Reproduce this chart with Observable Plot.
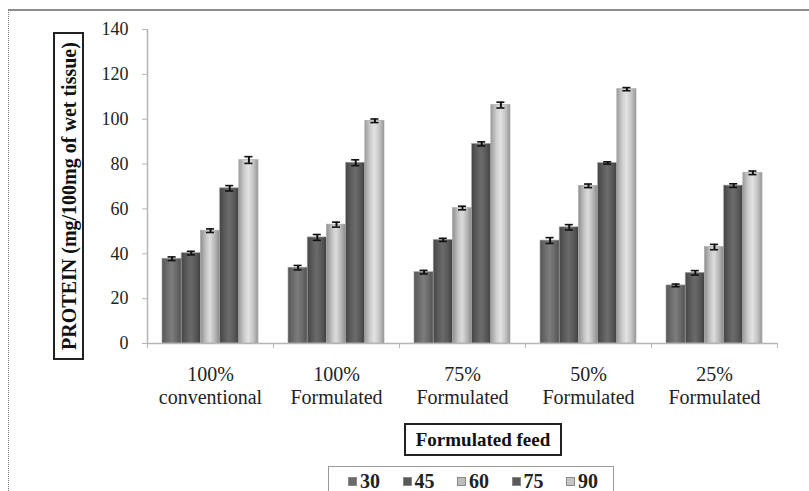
<!DOCTYPE html>
<html>
<head>
<meta charset="utf-8">
<script src="https://cdn.jsdelivr.net/npm/d3@7"></script>
<script src="https://cdn.jsdelivr.net/npm/@observablehq/plot@0.6"></script>
<style>
  body { margin: 0; background: #fff; }
  #wrap { position: relative; width: 809px; height: 491px; overflow: hidden; font-family: "Liberation Serif", serif; }
  #wrap svg { position: absolute; left: 0; top: 0; }
  #wrap svg text { font-family: "Liberation Serif" !important; }
  .frame { position: absolute; left: 8px; top: 9px; width: 820px; height: 500px; border-top: 2px solid #8c8c8c; border-left: 1px dotted #777; }
  .ylab { position: absolute; left: 53px; top: 32px; width: 27px; height: 324px; border: 2px solid #222; box-sizing: content-box; }
  .ylab span { position: absolute; left: 50%; top: 50%; transform: translate(-50%, -50%) rotate(-90deg); white-space: nowrap; font-weight: bold; font-size: 20px; color: #111; }
  .xlab { position: absolute; left: 404px; top: 423px; width: 154px; height: 29px; border: 2px solid #222; text-align: center; line-height: 29px; font-weight: bold; font-size: 19px; color: #111; }
  .legend { position: absolute; left: 328px; top: 466px; width: 284px; height: 40px; border: 1px solid #999; }
  .item { position: absolute; top: 3px; font-weight: bold; font-size: 20px; line-height: 22px; color: #222; white-space: nowrap; }
  .item i { display: inline-block; width: 9px; height: 9px; margin-right: 3px; vertical-align: 2px; border: 1px solid #888; box-sizing: border-box; }
</style>
</head>
<body>
<div id="wrap"></div>
<script>
const categories = ["100% conventional", "100% Formulated", "75% Formulated", "50% Formulated", "25% Formulated"];
const categoryLines = [["100%", "conventional"], ["100%", "Formulated"], ["75%", "Formulated"], ["50%", "Formulated"], ["25%", "Formulated"]];
const days = ["30", "45", "60", "75", "90"];
const v30 = [37.8, 33.8, 31.8, 45.9, 25.9];
const v45 = [40.3, 47.3, 46.2, 51.8, 31.5];
const v60 = [50.3, 53.0, 60.4, 70.3, 43.0];
const v75 = [69.2, 80.6, 89.0, 80.5, 70.4];
const v90 = [81.8, 99.3, 106.3, 113.4, 76.1];
const e30 = [0.8, 1.0, 0.8, 1.3, 0.6];
const e45 = [0.8, 1.3, 0.7, 1.2, 1.0];
const e60 = [0.8, 1.1, 0.8, 0.8, 1.2];
const e75 = [1.2, 1.3, 0.9, 0.5, 0.8];
const e90 = [1.5, 0.8, 1.3, 0.7, 0.8];
const yTicks = [0, 20, 40, 60, 80, 100, 120, 140];
const xLabel = "Formulated feed";
const yLabel = "PROTEIN (mg/100mg of wet tissue)";

const values = [v30, v45, v60, v75, v90];
const errors = [e30, e45, e60, e75, e90];

// geometry of a group within its category slot (in category units)
const groupPad = 0.119, bw = (1 - 2 * groupPad) / days.length, cap = 0.032;

const rows = [];
categories.forEach((c, i) => {
  days.forEach((d, j) => {
    const x1 = i + groupPad + j * bw;
    rows.push({cat: c, day: d, value: values[j][i], err: errors[j][i], x1, x2: x1 + bw, xc: x1 + bw / 2});
  });
});
const labelRows = categories.map((c, i) => ({cat: c, x: i + 0.5, text: categoryLines[i].join("\n")}));

const grads = {
  "30": ["#555", "#6e6e6e", "#7c7c7c", "#6a6a6a", "#505050"],
  "45": ["#454545", "#5e5e5e", "#6a6a6a", "#5a5a5a", "#404040"],
  "60": ["#8e8e8e", "#c4c4c4", "#dcdcdc", "#b8b8b8", "#8a8a8a"],
  "75": ["#454545", "#5f5f5f", "#6c6c6c", "#5a5a5a", "#404040"],
  "90": ["#9c9c9c", "#cfcfcf", "#e2e2e2", "#c6c6c6", "#969696"]
};

const plot = Plot.plot({
  width: 809,
  height: 491,
  marginLeft: 147,
  marginRight: 32,
  marginTop: 29,
  marginBottom: 148,
  style: {background: "transparent"},
  x: {domain: [0, categories.length], axis: null},
  y: {domain: [0, 140], axis: null},
  color: {domain: days, range: days.map(d => `url(#grad${d})`)},
  marks: [
    Plot.rectY(rows, {x1: "x1", x2: "x2", y: "value", fill: "day", stroke: "#a8a8a8", strokeWidth: 0.6}),
    Plot.ruleX(rows, {x: "xc", y1: d => d.value - d.err, y2: d => d.value + d.err, stroke: "#111", strokeWidth: 2}),
    Plot.ruleY(rows, {y: d => d.value - d.err, x1: d => d.xc - cap, x2: d => d.xc + cap, stroke: "#111", strokeWidth: 1.6}),
    Plot.ruleY(rows, {y: d => d.value + d.err, x1: d => d.xc - cap, x2: d => d.xc + cap, stroke: "#111", strokeWidth: 1.6}),
    Plot.ruleY([0], {stroke: "#b5b5b5", strokeWidth: 1.5}),
    Plot.ruleX([0], {stroke: "#b5b5b5", strokeWidth: 1.5}),
    Plot.axisY({ticks: yTicks, label: null, tickSize: 5, tickPadding: 14, fontSize: 18, stroke: "#b5b5b5", color: "#222", tickFormat: d => String(d)}),
    Plot.axisX({ticks: d3.range(categories.length + 1), label: null, tickSize: 5, tickFormat: () => "", stroke: "#b5b5b5"}),
    Plot.text(labelRows, {x: "x", y: 0, text: "text", dy: 22, lineAnchor: "top", lineHeight: 1.12, fontSize: 20, fill: "#222", textAnchor: "middle"})
  ]
});

const defs = d3.select(plot).insert("defs", ":first-child");
days.forEach(d => {
  const g = defs.append("linearGradient").attr("id", `grad${d}`).attr("x1", "0").attr("x2", "1").attr("y1", "0").attr("y2", "0");
  const st = grads[d];
  [0, 0.3, 0.5, 0.75, 1].forEach((o, k) => g.append("stop").attr("offset", o).attr("stop-color", st[k]));
});

const wrap = document.getElementById("wrap");
wrap.appendChild(plot);

const frame = document.createElement("div");
frame.className = "frame";
wrap.appendChild(frame);

const yl = document.createElement("div");
yl.className = "ylab";
const ys = document.createElement("span");
ys.textContent = yLabel;
yl.appendChild(ys);
wrap.appendChild(yl);

const xl = document.createElement("div");
xl.className = "xlab";
xl.textContent = xLabel;
wrap.appendChild(xl);

const legend = document.createElement("div");
legend.className = "legend";
const swatchColor = {"30": "#6a6a6a", "45": "#585858", "60": "#bdbdbd", "75": "#5a5a5a", "90": "#c6c6c6"};
days.forEach((d, j) => {
  const it = document.createElement("div");
  it.className = "item";
  it.style.left = (19 + j * 54.5) + "px";
  const sw = document.createElement("i");
  sw.style.background = swatchColor[d];
  it.appendChild(sw);
  it.appendChild(document.createTextNode(d));
  legend.appendChild(it);
});
wrap.appendChild(legend);
</script>
</body>
</html>
